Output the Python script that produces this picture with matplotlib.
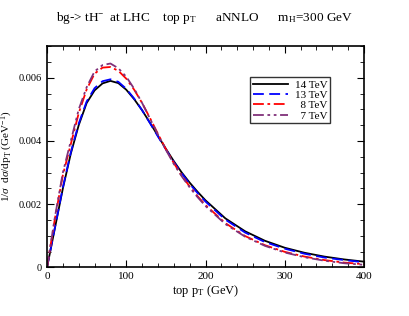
import matplotlib
matplotlib.use("Agg")
import matplotlib.pyplot as plt
from matplotlib.ticker import MultipleLocator

plt.rcParams['font.family'] = ['Liberation Serif', 'DejaVu Serif']
plt.rcParams['mathtext.fontset'] = 'custom'
plt.rcParams['mathtext.rm'] = 'Liberation Serif'
plt.rcParams['mathtext.it'] = 'Liberation Serif:italic'

# top pT (GeV) and normalized distributions
pt = [0, 10, 20, 30, 40, 50, 60, 70, 80, 90, 100, 110, 120, 130, 140, 150,
      160, 170, 180, 190, 200, 225, 250, 275, 300, 325, 350, 375, 400]
d14 = [0.0, 0.00125, 0.0025, 0.0036, 0.0045, 0.0052, 0.0056, 0.00582, 0.0059,
       0.00583, 0.00562, 0.00532, 0.00497, 0.00457, 0.00416, 0.00375,
       0.00336, 0.003, 0.00268, 0.00239, 0.00212, 0.00155, 0.00114, 0.00084,
       0.00062, 0.00046, 0.00034, 0.00025, 0.00018]
d13 = [0.0, 0.00127, 0.00253, 0.00364, 0.00455, 0.00525, 0.00567, 0.00589, 0.00595,
       0.00587, 0.00565, 0.00534, 0.00497, 0.00456, 0.00414, 0.00373,
       0.00333, 0.00297, 0.00264, 0.00235, 0.00208, 0.00151, 0.0011, 0.0008,
       0.00059, 0.00043, 0.00031, 0.00023, 0.00016]
d8 = [0.0, 0.00155, 0.00292, 0.0039, 0.00488, 0.00563, 0.00613, 0.00632, 0.00634,
      0.00622, 0.00597, 0.00562, 0.0052, 0.00472, 0.00422, 0.00374,
      0.0033, 0.0029, 0.00256, 0.00225, 0.00197, 0.0014, 0.00099, 0.0007,
      0.00049, 0.00034, 0.00023, 0.00015, 0.0001]
d7 = [0.0, 0.0016, 0.003, 0.004, 0.005, 0.0057, 0.0062, 0.0064, 0.00645,
      0.0063, 0.00603, 0.00565, 0.0052, 0.0047, 0.0042, 0.00372,
      0.00327, 0.00288, 0.00253, 0.00222, 0.00194, 0.00137, 0.00097, 0.00068,
      0.00047, 0.00032, 0.00021, 0.00013, 0.00008]

fig = plt.figure(figsize=(4.09, 3.16), dpi=100)
ax = fig.add_axes([0.115, 0.154, 0.775, 0.7])

ax.plot(pt, d14, color='black', lw=1.3, label='14 TeV')
ax.plot(pt, d13, color='blue', lw=1.3, dashes=(6, 3), label='13 TeV')
ax.plot(pt, d8, color='red', lw=1.3, dashes=(6, 2, 1.5, 2), label='  8 TeV')
ax.plot(pt, d7, color='#80307a', lw=1.3, dashes=(6, 2, 1.5, 2, 1.5, 2), label='  7 TeV')

ax.set_xlim(0, 400)
ax.set_ylim(0, 0.007)
ax.xaxis.set_major_locator(MultipleLocator(100))
ax.xaxis.set_minor_locator(MultipleLocator(20))
ax.yaxis.set_minor_locator(MultipleLocator(0.0005))
ax.set_yticks([0, 0.002, 0.004, 0.006])
ax.set_yticklabels(['0', '0.002', '0.004', '0.006'])
ax.tick_params(which='both', direction='in', top=True, right=True)
ax.tick_params(axis='x', labelsize=8)
ax.tick_params(axis='y', labelsize=7.5)
ax.tick_params(which='major', length=5)
ax.tick_params(which='minor', length=3)
for s in ax.spines.values():
    s.set_linewidth(1.2)

ax.set_xlabel('top p$_\\mathrm{T}$ (GeV)', fontsize=9, labelpad=1)
ax.set_ylabel('1/$\\sigma$  d$\\sigma$/dp$_\\mathrm{T}$ (GeV$^{-1}$)', fontsize=8)
ax.yaxis.set_label_coords(-0.1, 0.5)

fig.text(0.5, 0.943, 'bg-> tH$^{-}$  at LHC    top p$_\\mathrm{T}$      aNNLO      m$_\\mathrm{H}$=300 GeV',
         ha='center', va='center', fontsize=9.5)

leg = ax.legend(loc='upper left', bbox_to_anchor=(0.64, 0.86), fontsize=8,
                frameon=True, fancybox=False, edgecolor='black',
                handlelength=3.2, labelspacing=0.05, borderpad=0.25,
                handletextpad=0.6, borderaxespad=0)
leg.get_frame().set_linewidth(1.0)

fig.savefig('out.png', dpi=100)
